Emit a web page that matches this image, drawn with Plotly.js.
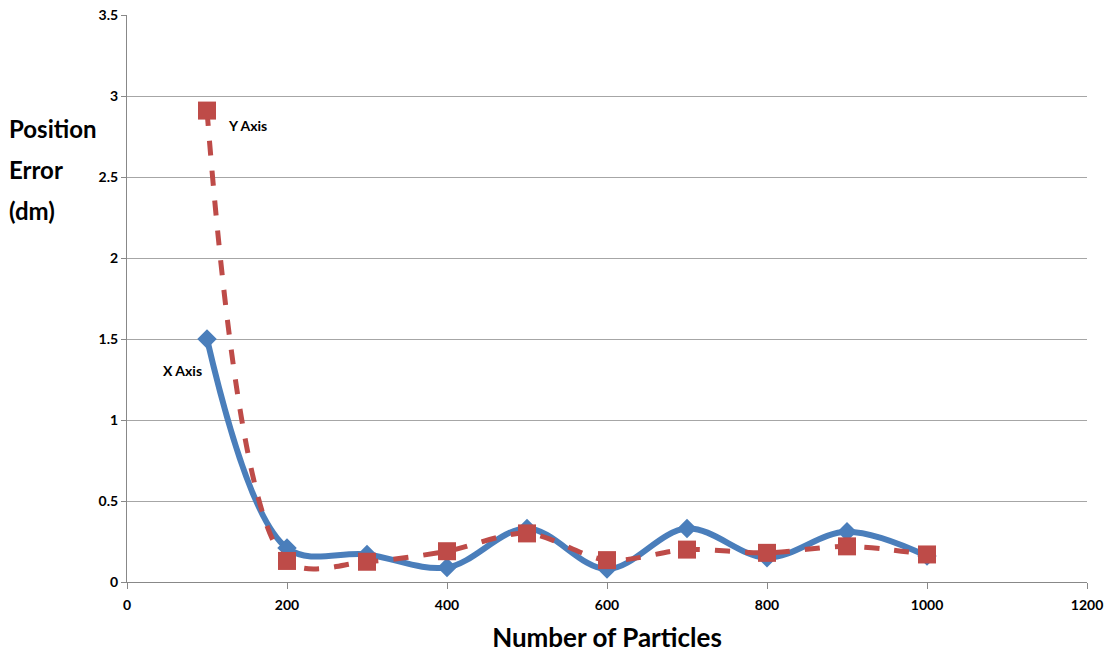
<!DOCTYPE html>
<html><head><meta charset="utf-8">
<script src="https://cdn.plot.ly/plotly-3.0.1.min.js"></script>
<style>html,body{margin:0;padding:0;background:#fff}#c{width:1110px;height:653px}</style>
</head><body><div id="c"></div>
<script>
const particles = [100,200,300,400,500,600,700,800,900,1000];
const xAxisError = [1.5,0.21,0.17,0.09,0.33,0.08,0.33,0.15,0.31,0.16];
const yAxisError = [2.91,0.13,0.125,0.19,0.30,0.135,0.2,0.18,0.22,0.17];
const xTicks = [0,200,400,600,800,1000,1200];
const yTicks = [0,0.5,1,1.5,2,2.5,3,3.5];
const yTickText = ['0','0.5','1','1.5','2','2.5','3','3.5'];

const F = 'Lato, "Open Sans", sans-serif';
const traces = [
 {x:particles,y:xAxisError,mode:'lines+markers',name:'X Axis',
  line:{color:'#4a7ebb',width:6,shape:'spline',smoothing:1},
  marker:{symbol:'diamond',size:15,color:'#4a7ebb'}},
 {x:particles,y:yAxisError,mode:'lines+markers',name:'Y Axis',
  line:{color:'#be4b48',width:5,dash:'dash',shape:'spline',smoothing:0.9},
  marker:{symbol:'square',size:18,color:'#be4b48'}}
];
const layout = {
 width:1110,height:653,showlegend:false,
 margin:{l:127,r:23,t:15,b:71},
 paper_bgcolor:'#fff',plot_bgcolor:'#fff',
 xaxis:{range:[0,1200],tickvals:xTicks,showgrid:false,zeroline:false,
   showline:true,linecolor:'#888',linewidth:1,ticks:'outside',ticklen:6,tickcolor:'#888',
   ticklabelstandoff:4,
   tickfont:{family:F,size:14,color:'#000',weight:'bold'},
   title:{text:'<b>Number of Particles</b>',font:{family:F,size:26,color:'#000'},standoff:22}},
 yaxis:{range:[0,3.5],tickvals:yTicks,ticktext:yTickText,showgrid:true,gridcolor:'#a6a6a6',gridwidth:1,
   zeroline:false,showline:true,linecolor:'#888',linewidth:1,ticks:'outside',ticklen:5,tickcolor:'#888',
   tickfont:{family:F,size:14,color:'#000',weight:'bold'}},
 annotations:[
  {xref:'paper',yref:'paper',x:-0.125,y:0.80,xanchor:'left',yanchor:'middle',showarrow:false,align:'left',
   text:'<b>Position</b>',font:{family:F,size:24,color:'#000'}},
  {xref:'paper',yref:'paper',x:-0.125,y:0.728,xanchor:'left',yanchor:'middle',showarrow:false,align:'left',
   text:'<b>Error</b>',font:{family:F,size:24,color:'#000'}},
  {xref:'paper',yref:'paper',x:-0.125,y:0.656,xanchor:'left',yanchor:'middle',showarrow:false,align:'left',
   text:'<b>(dm)</b>',font:{family:F,size:24,color:'#000'}},
  {x:124,y:2.82,xanchor:'left',yanchor:'middle',showarrow:false,text:'<b>Y Axis</b>',font:{family:F,size:14,color:'#000'}},
  {x:43,y:1.306,xanchor:'left',yanchor:'middle',showarrow:false,text:'<b>X Axis</b>',font:{family:F,size:14,color:'#000'}}
 ]
};
Plotly.newPlot('c',traces,layout,{displayModeBar:false,staticPlot:true});
</script></body></html>
